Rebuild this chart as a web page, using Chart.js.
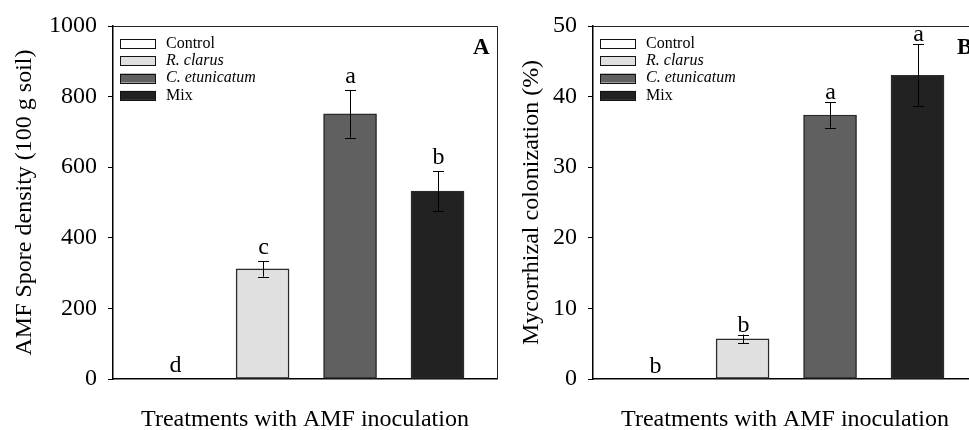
<!DOCTYPE html>
<html>
<head>
<meta charset="utf-8">
<script src="https://cdn.jsdelivr.net/npm/chart.js@4.4.1/dist/chart.umd.min.js"></script>
<style>
  html, body { margin: 0; padding: 0; background: #fff; overflow: hidden; width: 969px; height: 430px; }
  canvas { position: absolute; top: 0; }
  #cA { left: 0; }
  #cB { left: 480px; }
</style>
</head>
<body>
<canvas id="cA" width="505" height="430"></canvas>
<canvas id="cB" width="505" height="430"></canvas>
<script>
// ---- data ----
const categories = ['Control', 'R. clarus', 'C. etunicatum', 'Mix'];
const italicCategory = [false, true, true, false];
const barColors = ['#ffffff', '#e0e0e0', '#606060', '#222222'];

const sporeDensity = [0, 312, 751, 532];
const sporeSE = [0, 22, 67, 56];
const sporeLetters = ['d', 'c', 'a', 'b'];
const sporeTicks = [0, 200, 400, 600, 800, 1000];

const colonization = [0, 5.7, 37.4, 43.0];
const colonizationSE = [0, 0.6, 1.8, 4.4];
const colonizationLetters = ['b', 'b', 'a', 'a'];
const colonizationTicks = [0, 10, 20, 30, 40, 50];

const SERIF = "'Liberation Serif', 'Times New Roman', serif";

const decorPlugin = {
  id: 'decor',
  afterDatasetsDraw(chart, args, opts) {
    const ctx = chart.ctx;
    const ca = chart.chartArea;
    const xs = chart.scales.x, ys = chart.scales.y;
    ctx.save();
    // top & right frame
    ctx.strokeStyle = '#222';
    ctx.lineWidth = 1;
    ctx.beginPath();
    ctx.moveTo(ca.left, ca.top + 0.5);
    ctx.lineTo(ca.right + 0.5, ca.top + 0.5);
    ctx.lineTo(ca.right + 0.5, ca.bottom);
    ctx.stroke();
    // error bars and letters
    const vals = opts.values, se = opts.se, letters = opts.letters;
    for (let i = 0; i < vals.length; i++) {
      const cx = Math.round(xs.getPixelForValue(i)) + 0.5;
      const yTop = ys.getPixelForValue(vals[i] + se[i]);
      if (se[i] > 0) {
        const yBot = ys.getPixelForValue(vals[i] - se[i]);
        ctx.strokeStyle = '#000';
        ctx.lineWidth = 1;
        ctx.beginPath();
        ctx.moveTo(cx, yTop); ctx.lineTo(cx, yBot);
        ctx.moveTo(cx - 5.5, Math.round(yTop) + 0.5); ctx.lineTo(cx + 5.5, Math.round(yTop) + 0.5);
        ctx.moveTo(cx - 5.5, Math.round(yBot) + 0.5); ctx.lineTo(cx + 5.5, Math.round(yBot) + 0.5);
        ctx.stroke();
      }
      ctx.fillStyle = '#000';
      ctx.font = '24px ' + SERIF;
      ctx.textAlign = 'center';
      ctx.textBaseline = 'alphabetic';
      const gap = se[i] > 0 ? opts.gap : opts.gapZero;
      ctx.fillText(letters[i], cx, yTop - gap);
    }
    // legend
    for (let i = 0; i < categories.length; i++) {
      const yc = ca.top + 17.5 + 17.3 * i;
      const bx = ca.left + 7;
      ctx.fillStyle = barColors[i];
      ctx.fillRect(bx, yc - 4.5, 36, 9);
      ctx.strokeStyle = '#111';
      ctx.lineWidth = 1;
      ctx.strokeRect(bx + 0.5, Math.round(yc - 4.5) + 0.5, 35, 9);
      ctx.fillStyle = '#000';
      ctx.font = (italicCategory[i] ? 'italic ' : '') + '16px ' + SERIF;
      ctx.textAlign = 'left';
      ctx.textBaseline = 'middle';
      ctx.fillText(categories[i], bx + 46, yc);
    }
    // panel letter
    ctx.font = 'bold 23px ' + SERIF;
    ctx.textAlign = 'left';
    ctx.textBaseline = 'alphabetic';
    ctx.fillStyle = '#000';
    ctx.fillText(opts.panel, opts.panelX, ca.top + 28);
    ctx.restore();
  }
};

function makeChart(id, values, se, letters, ticks, yTitle, yTitlePad, panel, panelX, gap, gapZero) {
  return new Chart(document.getElementById(id), {
    type: 'bar',
    data: {
      datasets: [{
        data: values.map((v, i) => ({ x: i, y: v })),
        backgroundColor: barColors,
        borderColor: '#2a2a2a',
        borderWidth: 1.5,
        borderSkipped: false,
        barThickness: 53
      }]
    },
    plugins: [decorPlugin],
    options: {
      responsive: false,
      animation: false,
      layout: { padding: { left: 0, right: 8, top: 26, bottom: 0 } },
      plugins: {
        legend: { display: false },
        tooltip: { enabled: false },
        decor: { values, se, letters, panel, panelX, gap, gapZero }
      },
      scales: {
        x: {
          type: 'linear',
          offset: false,
          min: -0.71,
          max: 3.68,
          ticks: { display: false },
          grid: { display: false, offset: false },
          border: { display: true, color: '#000', width: 1.5 },
          title: {
            display: true,
            text: 'Treatments with AMF inoculation',
            color: '#000',
            font: { family: SERIF, size: 24, lineHeight: 0.8 },
            padding: { top: 0, bottom: 1 }
          },
          afterFit(scale) { scale.height = 51; }
        },
        y: {
          min: ticks[0],
          max: ticks[ticks.length - 1],
          afterBuildTicks(scale) { scale.ticks = ticks.map(v => ({ value: v })); },
          ticks: {
            color: '#000',
            padding: 11,
            font: { family: SERIF, size: 24 },
            callback: (v) => String(v)
          },
          grid: { display: true, drawOnChartArea: false, drawTicks: true, tickLength: 5, color: '#000', lineWidth: 1 },
          border: { display: true, color: '#000', width: 1.5 },
          title: {
            display: true,
            text: yTitle,
            color: '#000',
            font: { family: SERIF, size: 24, lineHeight: 1.2 },
            padding: { top: yTitlePad, bottom: 0 }
          },
          afterFit(scale) { scale.width = 113; }
        }
      }
    }
  });
}

makeChart('cA', sporeDensity, sporeSE, sporeLetters, sporeTicks,
  'AMF Spore density (100 g soil)', 10.5, 'A', 473, 7, 7);
makeChart('cB', colonization, colonizationSE, colonizationLetters, colonizationTicks,
  'Mycorrhizal colonization (%)', 37, 'B', 477, 3, 6);
</script>
</body>
</html>
